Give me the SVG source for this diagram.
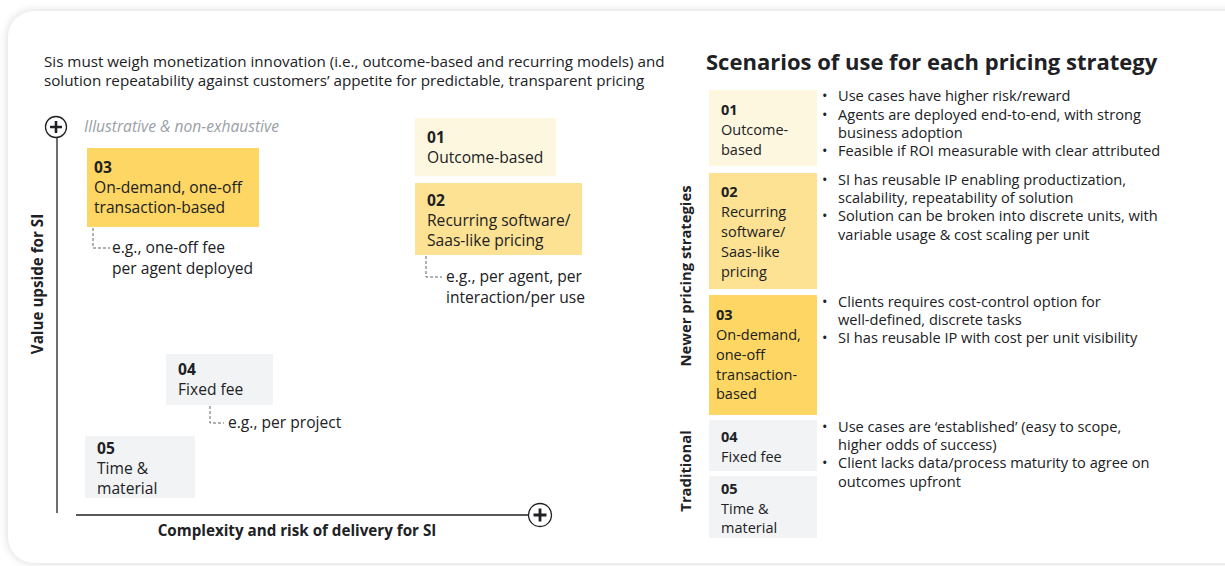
<svg xmlns="http://www.w3.org/2000/svg" width="1225" height="566" viewBox="0 0 1225 566">
<defs>
<filter id="sh" x="-5%" y="-5%" width="110%" height="110%"><feGaussianBlur stdDeviation="5"/></filter>
<style>
text{font-family:"Open Sans","Liberation Sans",sans-serif;fill:#202124;font-size:14.5px}
.l{font-size:15.6px}
.h{font-size:15.2px}
.ax-l{font-size:15.2px;font-weight:bold}
.v{font-size:14.8px;font-weight:bold}
.b{font-weight:bold}
.it{font-style:italic;fill:#9aa0a6;font-size:15.6px}
.bl{font-size:14.6px}
.t{font-size:22px;font-weight:bold}
.dash{fill:none;stroke:#5f6368;stroke-width:1;stroke-dasharray:3 2}
.ax{stroke:#202124;stroke-width:1.3;fill:none}
.c1{fill:#FEF7E0}.c2{fill:#FDE293}.c3{fill:#FDD663}.c4{fill:#F1F3F4}
</style>
</defs>
<rect width="1225" height="566" fill="#ffffff"/>
<rect x="8" y="11" width="1250" height="552" rx="26" fill="#d8d8d8" filter="url(#sh)"/>
<rect x="8" y="11" width="1250" height="552" rx="26" fill="#ffffff"/>

<text class="h" x="44" y="67">Sis must weigh monetization innovation (i.e., outcome-based and recurring models) and</text>
<text class="h" x="44" y="86">solution repeatability against customers’ appetite for predictable, transparent pricing</text>

<g id="axes">
<line class="ax" x1="57" y1="137" x2="57" y2="513"/>
<line class="ax" x1="76" y1="515" x2="528" y2="515"/>
<g id="plus-y"><circle cx="56" cy="127" r="10.5" fill="#fff" stroke="#202124" stroke-width="1.3"/><path d="M50 127H62M56 121V133" stroke="#202124" stroke-width="2.6"/></g>
<g id="plus-x"><circle cx="540" cy="515" r="11.5" fill="#fff" stroke="#202124" stroke-width="1.3"/><path d="M533.5 515H546.5M540 508.5V521.5" stroke="#202124" stroke-width="2.8"/></g>
<text class="ax-l" x="297" y="536" text-anchor="middle">Complexity and risk of delivery for SI</text>
<text class="ax-l" transform="translate(43 284) rotate(-90)" text-anchor="middle">Value upside for SI</text>
</g>
<text class="it" x="84" y="132">Illustrative &amp; non-exhaustive</text>

<g id="connectors">
<path class="dash" d="M93 228V248H110"/>
<path class="dash" d="M426 256V277H442"/>
<path class="dash" d="M210 406V423H224"/>
</g>

<g id="n03">
<rect class="c3" x="87" y="148" width="172" height="79"/>
<text class="l b" x="94" y="173">03</text>
<text class="l" x="94" y="193">On-demand, one-off</text>
<text class="l" x="94" y="213">transaction-based</text>
</g>
<text class="l" x="112" y="253">e.g., one-off fee</text>
<text class="l" x="112" y="274">per agent deployed</text>

<g id="n01">
<rect class="c1" x="415" y="118" width="141" height="58"/>
<text class="l b" x="427" y="143">01</text>
<text class="l" x="427" y="163">Outcome-based</text>
</g>
<g id="n02">
<rect class="c2" x="415" y="183" width="167" height="72"/>
<text class="l b" x="427" y="206">02</text>
<text class="l" x="427" y="226">Recurring software/</text>
<text class="l" x="427" y="246">Saas-like pricing</text>
</g>
<text class="l" x="446" y="282">e.g., per agent, per</text>
<text class="l" x="446" y="303">interaction/per use</text>

<g id="n04">
<rect class="c4" x="166" y="354" width="107" height="51"/>
<text class="l b" x="178" y="375">04</text>
<text class="l" x="178" y="395">Fixed fee</text>
</g>
<text class="l" x="228" y="428">e.g., per project</text>

<g id="n05">
<rect class="c4" x="85" y="436" width="110" height="62"/>
<text class="l b" x="97" y="454">05</text>
<text class="l" x="97" y="474">Time &amp;</text>
<text class="l" x="97" y="494">material</text>
</g>

<text class="t" x="706" y="70">Scenarios of use for each pricing strategy</text>
<text class="v" transform="translate(691 276) rotate(-90)" text-anchor="middle">Newer pricing strategies</text>
<text class="v" transform="translate(691 471) rotate(-90)" text-anchor="middle">Traditional</text>

<g id="r01">
<rect class="c1" x="709" y="90" width="108" height="76"/>
<text class="b" x="721" y="115">01</text>
<text x="721" y="135">Outcome-</text>
<text x="721" y="155">based</text>
</g>
<g id="r02">
<rect class="c2" x="709" y="173" width="108" height="116"/>
<text class="b" x="721" y="197">02</text>
<text x="721" y="217">Recurring</text>
<text x="721" y="237">software/</text>
<text x="721" y="257">Saas-like</text>
<text x="721" y="277">pricing</text>
</g>
<g id="r03">
<rect class="c3" x="709" y="295" width="108" height="120"/>
<text class="b" x="716" y="320">03</text>
<text x="716" y="340">On-demand,</text>
<text x="716" y="360">one-off</text>
<text x="716" y="380">transaction-</text>
<text x="716" y="399">based</text>
</g>
<g id="r04">
<rect class="c4" x="709" y="420" width="108" height="51"/>
<text class="b" x="721" y="442">04</text>
<text x="721" y="462">Fixed fee</text>
</g>
<g id="r05">
<rect class="c4" x="709" y="476" width="108" height="62"/>
<text class="b" x="721" y="494">05</text>
<text x="721" y="514">Time &amp;</text>
<text x="721" y="533">material</text>
</g>

<g id="bullets">
<text class="bl" x="822" y="101">•</text><text class="bl" x="838" y="101">Use cases have higher risk/reward</text>
<text class="bl" x="822" y="120">•</text><text class="bl" x="838" y="120">Agents are deployed end-to-end, with strong</text>
<text class="bl" x="838" y="138">business adoption</text>
<text class="bl" x="822" y="156">•</text><text class="bl" x="838" y="156">Feasible if ROI measurable with clear attributed</text>

<text class="bl" x="822" y="185">•</text><text class="bl" x="838" y="185">SI has reusable IP enabling productization,</text>
<text class="bl" x="838" y="203">scalability, repeatability of solution</text>
<text class="bl" x="822" y="221">•</text><text class="bl" x="838" y="221">Solution can be broken into discrete units, with</text>
<text class="bl" x="838" y="240">variable usage &amp; cost scaling per unit</text>

<text class="bl" x="822" y="307">•</text><text class="bl" x="838" y="307">Clients requires cost-control option for</text>
<text class="bl" x="838" y="325">well-defined, discrete tasks</text>
<text class="bl" x="822" y="343">•</text><text class="bl" x="838" y="343">SI has reusable IP with cost per unit visibility</text>

<text class="bl" x="822" y="432">•</text><text class="bl" x="838" y="432">Use cases are ‘established’ (easy to scope,</text>
<text class="bl" x="838" y="450">higher odds of success)</text>
<text class="bl" x="822" y="468">•</text><text class="bl" x="838" y="468">Client lacks data/process maturity to agree on</text>
<text class="bl" x="838" y="487">outcomes upfront</text>
</g>
</svg>
